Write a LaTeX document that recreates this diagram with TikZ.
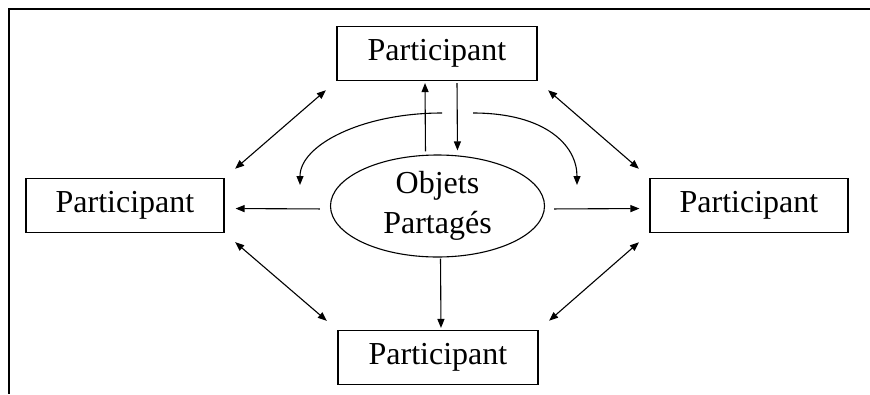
\documentclass[tikz,border=0pt]{standalone}
\usepackage{fontspec}
\setmainfont{Liberation Serif}
\usetikzlibrary{arrows.meta, positioning, shapes.geometric, calc}
\definecolor{cink}{HTML}{000000}
\tikzset{
  every picture/.style={line width=1.1pt, x=1pt, y=-1pt},
  box/.style={draw=cink, rectangle, align=center, inner sep=0pt, minimum width=#1, minimum height=54pt, font=\fontsize{32}{39}\selectfont},
  box/.default=200pt,
  shared/.style={draw=cink, ellipse, align=center, inner sep=0pt, minimum width=214pt, minimum height=102pt, font=\fontsize{32}{40}\selectfont},
  arrow/.style={-{Triangle[length=9pt, width=7pt]}, draw=cink},
  dblarrow/.style={{Triangle[length=9pt, width=7pt]}-{Triangle[length=9pt, width=7pt]}, draw=cink, shorten <=14pt, shorten >=14pt},
}
\begin{document}
\begin{tikzpicture}
  \useasboundingbox (0,0) rectangle (870,394);
  \draw (870,9) -- (9,9) -- (9,394);
  % participants round the shared objects
  \node[box] (top) at (437,53.5) {Participant};
  \node[box=198pt] (left) at (125,205.5) {Participant};
  \node[box=198pt] (right) at (749,205.5) {Participant};
  \node[box] (bottom) at (438,357.5) {Participant};
  \node[shared] (obj) at (437.5,206) {Objets\\Partagés};
  % diagonal links
  \draw[dblarrow] (left.north east) -- (top.south west);
  \draw[dblarrow] (top.south east) -- (right.north west);
  \draw[dblarrow] (left.south east) -- (bottom.north west);
  \draw[dblarrow] (bottom.north east) -- (right.south west);
  % links with the shared objects
  \draw[arrow, shorten <=10pt, shorten >=11pt] ([yshift=-3pt]obj.west) -- ([yshift=-3pt]left.east);
  \draw[arrow, shorten <=9pt, shorten >=10pt] ([yshift=-3pt]obj.east) -- ([yshift=-3pt]right.west);
  \draw[arrow, shorten <=3pt, shorten >=2pt] ([xshift=-12pt]obj.north) -- ([xshift=-12pt]top.south);
  \draw[arrow, shorten <=2pt, shorten >=4pt] ([xshift=20pt]top.south) -- ([xshift=20pt]obj.north);
  \draw[arrow, shorten <=1pt, shorten >=2pt] ([xshift=3pt]obj.south) -- ([xshift=3pt]bottom.north);
  % spreading curves
  \coordinate (lstart) at (442,113); \coordinate (lend) at (300,185);
  \coordinate (rstart) at (473,113); \coordinate (rend) at (577,185);
  \draw[arrow] (lstart) .. controls (362,113) and (300,145) .. (lend);
  \draw[arrow] (rstart) .. controls (545,113) and (577,145) .. (rend);
\end{tikzpicture}
\end{document}
